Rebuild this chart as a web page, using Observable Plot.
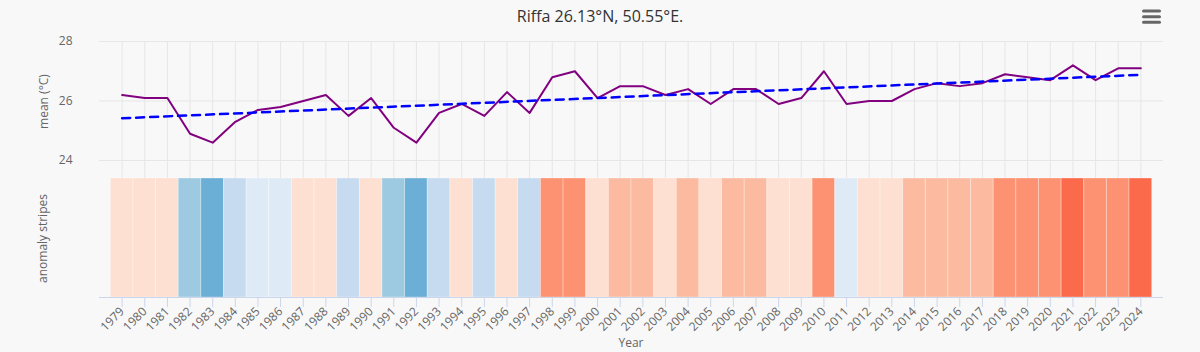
<!DOCTYPE html>
<html><head><meta charset="utf-8">
<script src="https://cdn.jsdelivr.net/npm/d3@7"></script>
<script src="https://cdn.jsdelivr.net/npm/@observablehq/plot@0.6"></script>
<style>
html,body{margin:0;padding:0;background:#f8f8f8;overflow:hidden;}
#chart{position:relative;width:1200px;height:352px;overflow:hidden;font-family:"Open Sans",sans-serif;background:#f8f8f8;}
.abs{position:absolute;}
#title{left:0;top:6px;width:1200px;text-align:center;font-size:16px;line-height:20px;color:#333;}
.ylab{font-size:12px;color:#666;white-space:nowrap;transform-origin:center center;}
#xlab{left:0;width:1262px;text-align:center;font-size:12px;color:#666;top:335px;line-height:16px;}
</style></head>
<body>
<div id="chart">
  <div id="title" class="abs">Riffa 26.13°N, 50.55°E.</div>
  <div id="menu" class="abs" style="left:1142px;top:8px;width:19px;height:16px;">
    <svg width="19" height="16"><g stroke="#666" stroke-width="3" stroke-linecap="round"><line x1="1.5" y1="2" x2="17.5" y2="2"/><line x1="1.5" y1="7.7" x2="17.5" y2="7.7"/><line x1="1.5" y1="13.3" x2="17.5" y2="13.3"/></g></svg>
  </div>
  <div id="top" class="abs" style="left:0;top:0;"></div>
  <div id="bottom" class="abs" style="left:0;top:178px;"></div>
  <div class="abs ylab" id="ylab1">mean (°C)</div>
  <div class="abs ylab" id="ylab2">anomaly stripes</div>
  <div id="xlab" class="abs">Year</div>
</div>
<script>
const years = [1979,1980,1981,1982,1983,1984,1985,1986,1987,1988,1989,1990,1991,1992,1993,1994,1995,1996,1997,1998,1999,2000,2001,2002,2003,2004,2005,2006,2007,2008,2009,2010,2011,2012,2013,2014,2015,2016,2017,2018,2019,2020,2021,2022,2023,2024];
const meanTemp = [26.2,26.1,26.1,24.9,24.6,25.3,25.7,25.8,26.0,26.2,25.5,26.1,25.1,24.6,25.6,25.9,25.5,26.3,25.6,26.8,27.0,26.1,26.5,26.5,26.2,26.4,25.9,26.4,26.4,25.9,26.1,27.0,25.9,26.0,26.0,26.4,26.6,26.5,26.6,26.9,26.8,26.7,27.2,26.7,27.1,27.1];
// anomaly class per year (negative = cooler, positive = warmer)
const anomalyLevel = [1,1,1,-3,-4,-2,-1,-1,1,1,-2,1,-3,-4,-2,1,-2,1,-2,3,3,1,2,2,1,2,1,2,2,1,1,3,-1,1,1,2,2,2,2,3,3,3,4,3,3,4];
const trendYears = [1979, 2024];
const trendValues = [25.42, 26.88];
const yTicks = [24, 26, 28];
const levelDomain = [-4,-3,-2,-1,1,2,3,4];
const levelColors = ["#6baed6","#9ecae1","#c6dbef","#deebf7","#fee0d2","#fcbba1","#fc9272","#fb6a4a"];

const series = years.map((y, i) => ({year: y, value: meanTemp[i], level: anomalyLevel[i]}));
const trend = trendYears.map((y, i) => ({year: y, value: trendValues[i]}));

const font = '"Open Sans", sans-serif';
const xDomain = [1978, 2025];

const topPlot = Plot.plot({
  width: 1200, height: 178,
  marginTop: 41, marginBottom: 0, marginLeft: 99, marginRight: 37,
  style: {background: "transparent", fontFamily: font, fontSize: "12px", color: "#666", overflow: "visible"},
  x: {domain: xDomain, axis: null},
  y: {domain: [24, 28], range: [160, 41], axis: null},
  marks: [
    Plot.ruleX(years, {stroke: "#e6e6e6", strokeWidth: 1}),
    Plot.ruleY(yTicks, {stroke: "#e6e6e6", strokeWidth: 1}),
    Plot.axisY(yTicks, {anchor: "left", tickSize: 0, tickPadding: 27, label: null, fill: "#666", fontSize: 12}),
    Plot.line(series, {x: "year", y: "value", stroke: "#800080", strokeWidth: 2}),
    Plot.line(trend, {x: "year", y: "value", stroke: "#0000ff", strokeWidth: 2.5, strokeDasharray: "8,6"})
  ]
});
document.getElementById("top").appendChild(topPlot);

const bottomPlot = Plot.plot({
  width: 1200, height: 174,
  marginTop: 0, marginBottom: 55, marginLeft: 99, marginRight: 37,
  style: {background: "transparent", fontFamily: font, fontSize: "12px", color: "#666", overflow: "visible"},
  x: {domain: xDomain, axis: null},
  y: {domain: [0, 1], axis: null},
  color: {type: "ordinal", domain: levelDomain, range: levelColors},
  marks: [
    Plot.rect(series, {x1: d => d.year - 0.5, x2: d => d.year + 0.5, fill: "level", stroke: "#ffffff", strokeOpacity: 0.3, strokeWidth: 1}),
    Plot.ruleY([0], {stroke: "#ccd6eb", strokeWidth: 1}),
    Plot.axisX(years, {anchor: "bottom", tickSize: 10, tickRotate: -45, tickPadding: 2, stroke: "#ccd6eb", fill: "#666", fontSize: 12, label: null, tickFormat: d => String(d)})
  ]
});
document.getElementById("bottom").appendChild(bottomPlot);

function placeRot(id, cx, cy) {
  const el = document.getElementById(id);
  const w = el.offsetWidth, h = el.offsetHeight;
  el.style.left = (cx - w / 2) + "px";
  el.style.top = (cy - h / 2) + "px";
  el.style.transform = "rotate(-90deg)";
}
placeRot("ylab1", 43, 101);
placeRot("ylab2", 42, 238);
</script>
</body></html>
